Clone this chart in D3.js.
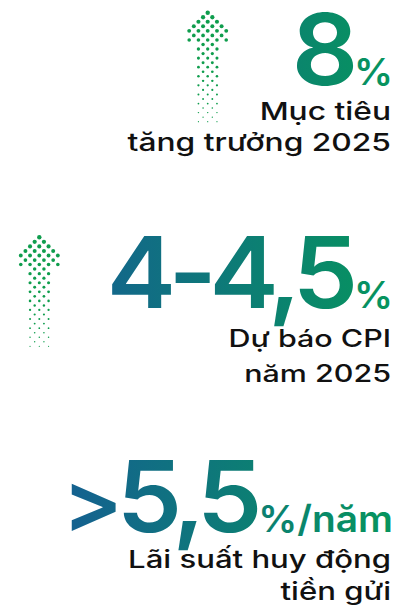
<!DOCTYPE html>
<html>
<head>
<meta charset="utf-8">
<script src="https://cdn.jsdelivr.net/npm/d3@7/dist/d3.min.js"></script>
<style>
  body { margin: 0; background: #fff; }
  svg { display: block; }
</style>
</head>
<body>
<script>
// headline figures
const prefixes = ["", "", ">"];
const numbers = ["8", "4-4,5", "5,5"];
const units = ["%", "%", "%/năm"];
const captionTop = ["Mục tiêu", "Dự báo CPI", "Lãi suất huy động"];
const captionBottom = ["tăng trưởng 2025", "năm 2025", "tiền gửi"];
const hasArrow = [true, true, false];

// dotted arrow shape: half-width of every row (in half steps)
const headRows = [0, 1, 2, 3, 4, 3, 4];
const shaftRows = d3.range(18).map(() => 2);
const arrowRows = headRows.concat(shaftRows);

const width = 401, height = 616;

// layout (not data)
const rightX = 393;
const numStretch = 1.05;
const numY = [85, 308, 532];
const capY = [[120, 151], [347, 382], [568, 600]];
const capSize = [24.8, 23.8, 24.3];
const arrowPos = [[207.7, 12.7], [39.3, 237.3], null];

const svg = d3.select("body").append("svg")
  .attr("width", width)
  .attr("height", height);

// gradient in the local (stretched) space of the numbers
const toLocal = px => (px - rightX) / numStretch;
const grad = svg.append("defs").append("linearGradient")
  .attr("id", "numGrad")
  .attr("gradientUnits", "userSpaceOnUse")
  .attr("x1", toLocal(75)).attr("x2", toLocal(395)).attr("y1", 0).attr("y2", 0);
grad.append("stop").attr("offset", 0).attr("stop-color", "#14628f");
grad.append("stop").attr("offset", 1).attr("stop-color", "#06955d");

// arrow scales
const xStep = d3.scaleLinear().domain([0, 1]).range([0, 4.63]);
const yStep = d3.scaleLinear().domain([0, arrowRows.length - 1]).range([0, 109]);
const rScale = d3.scaleLinear().domain([0, arrowRows.length - 1]).range([2.2, 0.6]);

const dots = [];
arrowRows.forEach((hw, r) => {
  for (let c = -hw; c <= hw; c++) {
    if ((c + r) % 2 === 0) dots.push({r, c});
  }
});

hasArrow.forEach((a, i) => {
  if (!a) return;
  const g = svg.append("g")
    .attr("transform", `translate(${arrowPos[i][0]},${arrowPos[i][1]})`);
  g.selectAll("circle")
    .data(dots)
    .enter().append("circle")
    .attr("cx", d => xStep(d.c))
    .attr("cy", d => yStep(d.r))
    .attr("r", d => rScale(d.r))
    .attr("fill", "#0f9d4d");
});

// big numbers
numbers.forEach((n, i) => {
  const t = svg.append("text")
    .attr("transform", `translate(${rightX},${numY[i]}) scale(${numStretch},1)`)
    .attr("text-anchor", "end")
    .attr("fill", "url(#numGrad)")
    .style("font-family", "Inter, sans-serif")
    .style("font-weight", 600);
  if (prefixes[i]) {
    t.append("tspan")
      .style("font-size", "86px")
      .style("letter-spacing", "-6px")
      .text(prefixes[i]);
  }
  t.append("tspan")
    .style("font-size", "99px")
    .style("letter-spacing", "-7px")
    .text(n);
  t.append("tspan")
    .style("font-size", "37px")
    .attr("dx", 3)
    .text(units[i]);
});

// captions
numbers.forEach((n, i) => {
  [captionTop[i], captionBottom[i]].forEach((s, j) => {
    svg.append("text")
      .attr("transform", `translate(391,${capY[i][j]}) scale(1.28,1)`)
      .attr("text-anchor", "end")
      .attr("fill", "#111")
      .style("font-family", "Inter, sans-serif")
      .style("font-weight", 500)
      .style("font-size", capSize[i] + "px")
      .text(s);
  });
});
</script>
</body>
</html>
